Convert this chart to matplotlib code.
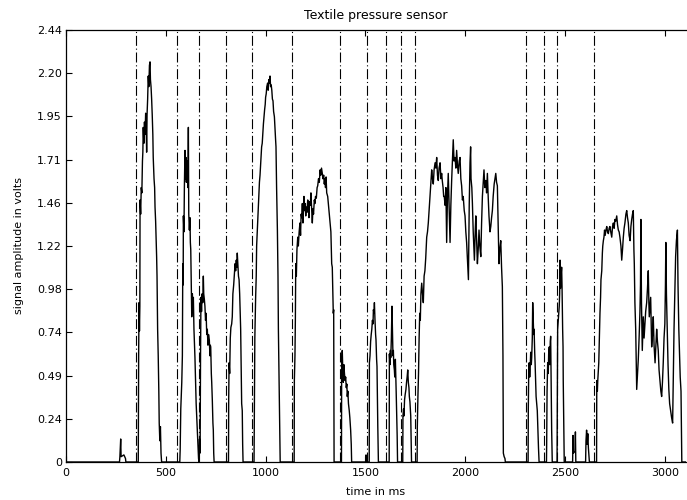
import matplotlib
matplotlib.use("Agg")
import matplotlib.pyplot as plt

# ---- data ----
signal_samples = [
    (0, 0), (268, 0), (270, 0.03), (274, 0.13), (276, 0.03), (290, 0.04), (298, 0.02), (300, 0),
    (362, 0), (364, 0.62), (366, 0.90), (368, 0.74), (370, 0.88), (371, 1.48), (374, 1.40), (377, 1.55),
    (380, 1.52), (383, 1.70), (385, 1.75), (387, 1.89), (390, 1.80), (393, 1.92), (396, 1.85), (399, 1.97),
    (401, 1.95), (404, 1.75), (406, 1.96), (409, 2.05), (412, 2.18), (415, 2.12), (418, 2.24), (421, 2.26),
    (423, 2.16), (426, 2.12), (429, 2.05), (432, 1.96), (435, 1.85), (437, 1.72), (441, 1.60), (444, 1.55),
    (446, 1.44), (449, 1.36), (451, 1.28), (454, 1.16), (456, 1.05), (459, 0.75), (462, 0.60), (465, 0.40),
    (467, 0.22), (470, 0.12), (473, 0.20), (476, 0.05), (479, 0),
    (570, 0), (572, 0.07), (575, 0.30), (578, 0.39), (580, 0.45), (583, 0.60), (585, 1.12), (587, 1.00),
    (588, 1.39), (591, 1.30), (593, 1.55), (596, 1.76), (599, 1.60), (601, 1.72), (603, 1.58), (605, 1.65),
    (608, 1.70), (611, 1.55), (613, 1.89), (615, 1.40), (618, 1.31), (621, 1.38), (623, 1.24), (625, 1.20),
    (627, 1.05), (630, 0.82), (633, 0.95), (636, 0.85), (638, 0.93), (641, 0.75), (643, 0.68), (646, 0.59),
    (649, 0.45), (652, 0.33), (655, 0.25), (658, 0.18), (661, 0.08), (664, 0.02), (666, 0), (669, 0.13),
    (671, 0.05), (672, 0.10), (674, 0.60), (676, 0.93), (679, 0.85), (682, 0.95), (685, 0.90), (688, 1.05),
    (690, 0.95), (693, 0.92), (696, 0.88), (699, 0.80), (702, 0.84), (705, 0.72), (708, 0.75), (711, 0.66),
    (714, 0.72), (718, 0.69), (721, 0.60), (723, 0.66), (725, 0.65), (728, 0.50), (730, 0.45), (733, 0.35),
    (736, 0.22), (738, 0.18), (740, 0.05), (742, 0),
    (814, 0), (815, 0.35), (817, 0.56), (820, 0.50), (823, 0.70), (826, 0.76), (830, 0.78), (833, 0.82),
    (836, 0.95), (840, 1.00), (843, 1.05), (847, 1.12), (850, 1.08), (853, 1.14), (856, 1.10), (858, 1.18),
    (861, 1.12), (864, 1.05), (867, 1.03), (870, 0.95), (873, 0.82), (875, 0.75), (878, 0.50), (880, 0.33),
    (883, 0.29), (885, 0.10), (887, 0),
    (942, 0), (943, 0.20), (946, 0.70), (950, 0.93), (953, 1.05), (955, 1.22), (958, 1.30), (961, 1.38),
    (963, 1.42), (966, 1.50), (969, 1.58), (972, 1.62), (975, 1.68), (977, 1.72), (980, 1.78), (983, 1.80),
    (986, 1.86), (989, 1.91), (992, 1.95), (995, 1.99), (998, 2.02), (1000, 2.06), (1003, 2.08), (1006, 2.12),
    (1010, 2.14), (1013, 2.10), (1016, 2.16), (1019, 2.14), (1022, 2.18), (1025, 2.12), (1028, 2.13),
    (1031, 2.10), (1034, 2.05), (1037, 2.04), (1040, 1.98), (1044, 1.95), (1047, 1.88), (1050, 1.82),
    (1052, 1.78), (1055, 1.55), (1059, 1.31), (1062, 1.05), (1064, 0.75), (1067, 0.50), (1069, 0.33),
    (1071, 0.15), (1073, 0),
    (1143, 0), (1144, 0.46), (1147, 0.60), (1149, 0.80), (1151, 1.12), (1154, 1.05), (1157, 1.20),
    (1161, 1.27), (1164, 1.22), (1168, 1.30), (1172, 1.35), (1175, 1.28), (1178, 1.40), (1181, 1.38),
    (1184, 1.46), (1187, 1.35), (1190, 1.45), (1192, 1.50), (1195, 1.42), (1198, 1.46), (1201, 1.39),
    (1204, 1.44), (1207, 1.41), (1211, 1.48), (1214, 1.46), (1217, 1.38), (1220, 1.47), (1224, 1.45),
    (1227, 1.52), (1230, 1.45), (1234, 1.35), (1237, 1.43), (1240, 1.40), (1244, 1.48), (1247, 1.46),
    (1250, 1.50), (1254, 1.49), (1258, 1.55), (1261, 1.56), (1265, 1.60), (1269, 1.58), (1273, 1.65),
    (1276, 1.62), (1280, 1.66), (1284, 1.63), (1287, 1.60), (1291, 1.62), (1294, 1.57), (1297, 1.60),
    (1300, 1.55), (1303, 1.61), (1306, 1.52), (1311, 1.50), (1315, 1.45), (1319, 1.40), (1323, 1.35),
    (1327, 1.30), (1331, 1.12), (1334, 1.10), (1337, 0.95), (1339, 0.84), (1341, 0.86), (1343, 0),
    (1380, 0), (1381, 0.56), (1384, 0.63), (1387, 0.50), (1389, 0.45), (1392, 0.55), (1395, 0.50),
    (1398, 0.46), (1401, 0.48), (1404, 0.42), (1407, 0.44), (1409, 0.37), (1412, 0.40), (1415, 0.33),
    (1419, 0.29), (1422, 0.25), (1426, 0.18), (1429, 0.10), (1431, 0),
    (1501, 0), (1503, 0.04), (1506, 0),
    (1519, 0), (1520, 0.56), (1523, 0.60), (1526, 0.68), (1529, 0.72), (1532, 0.75), (1535, 0.80),
    (1538, 0.78), (1540, 0.86), (1543, 0.84), (1545, 0.90), (1548, 0.80), (1551, 0.72), (1553, 0.69),
    (1556, 0.58), (1558, 0.54), (1560, 0.37), (1562, 0.20), (1565, 0),
    (1619, 0), (1620, 0.61), (1623, 0.55), (1625, 0.63), (1627, 0.59), (1630, 0.70), (1633, 0.88),
    (1636, 0.72), (1638, 0.60), (1640, 0.63), (1642, 0.55), (1645, 0.52), (1647, 0.48), (1650, 0.58),
    (1652, 0.50), (1654, 0.40), (1657, 0.26), (1659, 0.15), (1661, 0),
    (1687, 0), (1688, 0.26), (1691, 0.30), (1693, 0.26), (1696, 0.35), (1699, 0.38), (1703, 0.41),
    (1706, 0.45), (1709, 0.48), (1712, 0.52), (1715, 0.45), (1718, 0.42), (1720, 0.37), (1723, 0.34),
    (1725, 0.30), (1727, 0.26), (1729, 0.12), (1731, 0),
    (1759, 0), (1760, 0.20), (1763, 0.37), (1766, 0.50), (1769, 0.70), (1772, 0.84), (1775, 0.80),
    (1778, 0.95), (1782, 1.01), (1786, 0.95), (1790, 0.90), (1794, 1.05), (1798, 1.08), (1802, 1.15),
    (1807, 1.27), (1811, 1.30), (1815, 1.35), (1819, 1.42), (1824, 1.50), (1828, 1.58), (1832, 1.65),
    (1836, 1.60), (1840, 1.57), (1844, 1.65), (1849, 1.69), (1853, 1.66), (1857, 1.72), (1861, 1.62),
    (1865, 1.59), (1869, 1.66), (1874, 1.69), (1878, 1.60), (1882, 1.63), (1885, 1.59), (1889, 1.55),
    (1892, 1.50), (1895, 1.50), (1899, 1.45), (1903, 1.55), (1907, 1.24), (1911, 1.50), (1915, 1.63),
    (1919, 1.45), (1924, 1.24), (1928, 1.45), (1932, 1.59), (1936, 1.70), (1940, 1.82), (1944, 1.70),
    (1949, 1.72), (1953, 1.66), (1957, 1.76), (1961, 1.68), (1965, 1.63), (1970, 1.70), (1974, 1.72),
    (1978, 1.60), (1982, 1.56), (1986, 1.48), (1990, 1.50), (1995, 1.42), (1999, 1.39), (2003, 1.30),
    (2007, 1.24), (2011, 1.15), (2016, 1.03), (2020, 1.45), (2024, 1.69), (2027, 1.78), (2029, 1.60),
    (2033, 1.55), (2036, 1.46), (2040, 1.30), (2043, 1.22), (2046, 1.14), (2050, 1.30), (2053, 1.39),
    (2057, 1.25), (2061, 1.12), (2065, 1.20), (2069, 1.31), (2073, 1.22), (2078, 1.16), (2082, 1.35),
    (2086, 1.50), (2090, 1.58), (2094, 1.65), (2098, 1.55), (2103, 1.59), (2107, 1.52), (2111, 1.63),
    (2115, 1.50), (2119, 1.39), (2124, 1.30), (2128, 1.33), (2132, 1.38), (2136, 1.42), (2140, 1.50),
    (2145, 1.57), (2149, 1.60), (2153, 1.63), (2157, 1.58), (2161, 1.56), (2165, 1.35), (2169, 1.12),
    (2173, 1.20), (2178, 1.25), (2182, 1.10), (2186, 0.99), (2189, 0.60), (2191, 0.05), (2195, 0.03),
    (2199, 0.02), (2201, 0),
    (2315, 0), (2316, 0.30), (2318, 0.50), (2320, 0.56), (2323, 0.48), (2325, 0.52), (2328, 0.62),
    (2331, 0.55), (2333, 0.59), (2336, 0.70), (2338, 0.90), (2341, 0.80), (2343, 0.72), (2345, 0.75),
    (2348, 0.62), (2350, 0.56), (2353, 0.45), (2355, 0.37), (2358, 0.33), (2361, 0.29), (2364, 0.18),
    (2367, 0.08), (2370, 0),
    (2407, 0), (2408, 0.10), (2410, 0.40), (2413, 0.56), (2416, 0.50), (2418, 0.61), (2421, 0.65),
    (2424, 0.55), (2426, 0.68), (2428, 0.71), (2431, 0.40), (2433, 0.18), (2436, 0),
    (2460, 0), (2461, 0.30), (2463, 0.75), (2466, 0.80), (2469, 0.85), (2471, 0.88), (2473, 0.95),
    (2475, 1.14), (2477, 0.98), (2480, 1.05), (2483, 1.10), (2485, 0.99), (2488, 0.75), (2490, 0.65),
    (2491, 0.46), (2494, 0.20), (2496, 0),
    (2538, 0), (2540, 0.15), (2542, 0.05), (2550, 0.06), (2552, 0.17), (2554, 0),
    (2603, 0), (2605, 0.12), (2608, 0.18), (2611, 0.10), (2614, 0.16), (2617, 0.08), (2620, 0.03), (2622, 0),
    (2658, 0), (2659, 0.46), (2662, 0.40), (2664, 0.46), (2667, 0.52), (2669, 0.56), (2672, 0.70),
    (2675, 0.84), (2678, 0.93), (2680, 1.03), (2684, 1.08), (2687, 1.18), (2689, 1.22), (2692, 1.25),
    (2695, 1.27), (2698, 1.31), (2701, 1.28), (2705, 1.31), (2709, 1.33), (2713, 1.30), (2717, 1.29),
    (2721, 1.32), (2725, 1.33), (2729, 1.30), (2734, 1.27), (2738, 1.33), (2742, 1.35), (2746, 1.32),
    (2750, 1.37), (2754, 1.36), (2759, 1.39), (2763, 1.34), (2767, 1.31), (2771, 1.30), (2775, 1.27),
    (2780, 1.22), (2784, 1.14), (2788, 1.20), (2792, 1.27), (2796, 1.32), (2800, 1.35), (2805, 1.40),
    (2809, 1.42), (2813, 1.38), (2817, 1.35), (2821, 1.28), (2826, 1.25), (2830, 1.33), (2834, 1.37),
    (2838, 1.40), (2842, 1.42), (2845, 1.20), (2847, 1.12), (2850, 0.90), (2854, 0.75), (2857, 0.55),
    (2859, 0.41), (2863, 0.50), (2867, 0.58), (2871, 0.70), (2875, 0.84), (2878, 1.00), (2880, 1.37),
    (2883, 0.90), (2887, 0.63), (2890, 0.75), (2892, 0.82), (2896, 0.70), (2900, 0.78), (2904, 0.85),
    (2909, 0.90), (2913, 0.98), (2917, 1.08), (2920, 0.90), (2922, 0.82), (2926, 0.88), (2929, 0.93),
    (2932, 0.75), (2934, 0.65), (2938, 0.72), (2942, 0.82), (2946, 0.66), (2951, 0.56), (2955, 0.65),
    (2959, 0.75), (2963, 0.68), (2967, 0.63), (2971, 0.52), (2976, 0.45), (2980, 0.40), (2984, 0.37),
    (2988, 0.45), (2992, 0.56), (2996, 0.70), (3000, 0.78), (3003, 1.00), (3005, 1.24), (3008, 0.95),
    (3012, 0.75), (3016, 0.55), (3020, 0.41), (3024, 0.33), (3029, 0.29), (3034, 0.25), (3039, 0.22),
    (3042, 0.45), (3046, 0.75), (3050, 0.95), (3054, 1.16), (3058, 1.25), (3063, 1.31), (3066, 1.00),
    (3070, 0.75), (3074, 0.60), (3077, 0.48), (3081, 0.40), (3084, 0.10), (3085, 0), (3110, 0),
]
time_ms = [s[0] for s in signal_samples]
volts = [s[1] for s in signal_samples]

marker_times_ms = [351, 556, 668, 803, 930, 1132, 1374, 1506, 1605, 1677, 1747,
                   2305, 2395, 2460, 2647]

xtick_values = [0, 500, 1000, 1500, 2000, 2500, 3000]
ytick_values = [0, 0.244, 0.488, 0.732, 0.976, 1.22, 1.464, 1.708, 1.952, 2.196, 2.44]
ytick_labels = ["0", "0.24", "0.49", "0.74", "0.98", "1.22", "1.46", "1.71", "1.95", "2.20", "2.44"]

# ---- figure ----
W, H = 687, 500
fig = plt.figure(figsize=(W / 100, H / 100), dpi=100)
ax = fig.add_axes([66 / W, 38 / H, 620 / W, 432 / H])

ax.plot(time_ms, volts, color="black", linewidth=1.0)
for t in marker_times_ms:
    ax.axvline(t, color="black", linewidth=0.8, linestyle=(0, (9, 2.5, 1, 2.5)))

ax.set_xlim(0, 3106)
ax.set_ylim(0, 2.44)
ax.set_xticks(xtick_values)
ax.set_xticklabels([str(v) for v in xtick_values])
ax.set_yticks(ytick_values)
ax.set_yticklabels(ytick_labels)

ax.spines["right"].set_visible(False)
for s in ["left", "bottom", "top"]:
    ax.spines[s].set_linewidth(0.9)
ax.tick_params(direction="in", length=4, width=0.8, top=True, right=False,
               labelsize=8)
ax.tick_params(axis="x", pad=4.5)
ax.tick_params(axis="y", pad=3)

ax.set_title("Textile pressure sensor", fontsize=9, pad=8)
ax.set_xlabel("time in ms", fontsize=8, labelpad=6)
ax.set_ylabel("signal amplitude in volts", fontsize=8, labelpad=9)

fig.savefig("out.png", dpi=100)
